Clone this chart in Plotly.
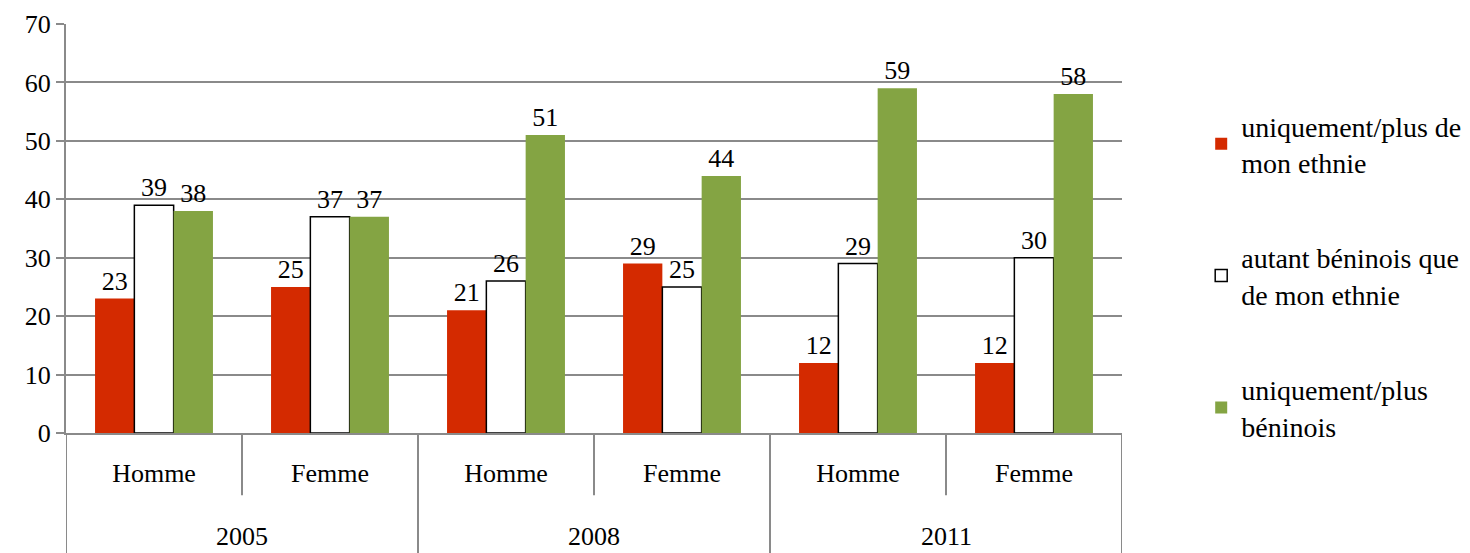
import plotly.graph_objects as go

years = ["2005", "2008", "2011"]
sexes = ["Homme", "Femme"]
series_names = [
    "uniquement/plus de<br>mon ethnie",
    "autant béninois que<br>de mon ethnie",
    "uniquement/plus<br>béninois",
]
ethnie = [23, 25, 21, 29, 12, 12]
autant = [39, 37, 26, 25, 29, 30]
beninois = [38, 37, 51, 44, 59, 58]

colors = ["#d42a00", "#ffffff", "#84a443"]
grid = "#8a8a8a"
font = "Liberation Serif"

group_labels = [s for _ in years for s in sexes]
xpos = list(range(len(group_labels)))

fig = go.Figure()
for i, (name, vals) in enumerate(zip(series_names, [ethnie, autant, beninois])):
    fig.add_trace(
        go.Bar(
            x=xpos,
            y=vals,
            name=name,
            legendgroup=str(i),
            marker=dict(
                color=colors[i],
                line=dict(color="black" if i == 1 else colors[i], width=1.5 if i == 1 else 0),
            ),
            text=vals,
            textposition="outside",
            textfont=dict(family=font, size=26, color="black"),
            cliponaxis=False,
        )
    )

# category dividers below the axis
n_sex = len(sexes)
for k in range(len(group_labels) + 1):
    outer = k % n_sex == 0
    fig.add_shape(
        type="line",
        xref="x",
        yref="paper",
        x0=k - 0.5,
        x1=k - 0.5,
        y0=0,
        y1=-0.295 if outer else -0.152,
        line=dict(color=grid, width=2),
    )

for j, yr in enumerate(years):
    fig.add_annotation(
        x=j * n_sex + (n_sex - 1) / 2,
        y=-0.253,
        xref="x",
        yref="paper",
        text=yr,
        showarrow=False,
        yanchor="middle",
        font=dict(family=font, size=26, color="black"),
    )

# the page adds an 8px body margin, so the figure is 8px smaller and shifted
fig.update_layout(
    width=1462,
    height=545,
    margin=dict(l=58, r=348, t=16, b=120, autoexpand=False),
    paper_bgcolor="white",
    plot_bgcolor="white",
    barmode="group",
    bargap=0.33,
    bargroupgap=0,
    font=dict(family=font, size=26, color="black"),
    legend=dict(
        x=1.075,
        xanchor="left",
        y=0.812,
        yanchor="top",
        font=dict(family=font, size=28, color="black"),
        tracegroupgap=56,
        bgcolor="rgba(0,0,0,0)",
    ),
    showlegend=True,
)
fig.update_xaxes(
    range=[-0.5, len(group_labels) - 0.5],
    tickvals=xpos,
    ticktext=group_labels,
    ticks="",
    ticklabelstandoff=16,
    showline=True,
    linecolor=grid,
    linewidth=2,
    showgrid=False,
    zeroline=False,
    automargin=False,
    tickfont=dict(family=font, size=26, color="black"),
)
fig.update_yaxes(
    range=[0, 70],
    dtick=10,
    ticks="outside",
    ticklen=8,
    tickcolor=grid,
    tickwidth=2,
    showline=True,
    linecolor=grid,
    linewidth=2,
    gridcolor=grid,
    gridwidth=1.5,
    zeroline=False,
    automargin=False,
    tickfont=dict(family=font, size=26, color="black"),
)

fig.write_html("out.html")
